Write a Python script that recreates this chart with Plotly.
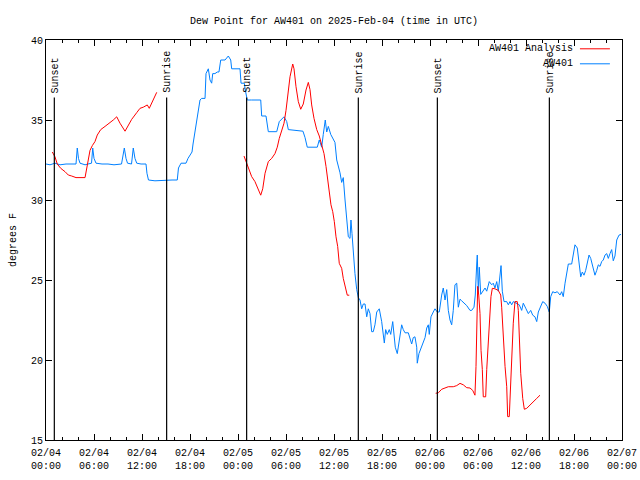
import datetime as dt
import plotly.graph_objects as go

# ---- data (hours after 2025-02-04 00:00 UTC) ----
start = dt.datetime(2025, 2, 4, 0, 0)

obs_hours = [0, 0.5, 1.12, 1.75, 2.5, 3.25, 3.75, 3.91, 4.06, 4.25, 4.88, 5.25, 5.69, 5.84, 6.0, 6.25,
             7.0, 7.75, 8.5, 9.44, 9.79, 10.0, 10.19, 10.69, 10.91, 11.12, 11.34, 11.88, 12.5, 12.62,
             12.81, 13.62, 14.88, 15.75, 16.41, 16.56, 16.88, 17.5, 17.75, 18.0, 18.25, 18.38, 18.71,
             18.96, 19.12, 19.25, 19.46, 19.88, 20.0, 20.29, 20.5, 20.71, 20.84, 21.12, 21.41, 21.62,
             21.84, 22.38, 22.79, 23.09, 23.21, 24.25, 24.38, 24.79, 24.94, 25.16, 25.71, 26.84, 26.96,
             27.5, 27.79, 28.84, 29.16, 29.75, 30.09, 30.29, 32.12, 32.38, 32.66, 33.91, 34.16, 34.46,
             34.66, 34.91, 35.09, 35.29, 35.59, 35.91, 36.12, 36.34, 36.75, 36.96, 37.16, 37.38, 37.59,
             37.79, 38.0, 38.12, 38.25, 38.41, 38.62, 38.84, 39.04, 39.25, 39.46, 39.66, 39.88, 40.09,
             40.29, 40.5, 40.71, 40.91, 41.12, 41.34, 41.66, 41.96, 42.16, 42.29, 42.46, 42.66, 42.91,
             43.09, 43.34, 43.5, 43.66, 43.91, 44.16, 44.46, 44.66, 44.88, 45.29, 45.5, 45.71, 45.91,
             46.12, 46.34, 46.41, 46.62, 46.84, 47.09, 47.38, 47.59, 47.79, 47.91, 48.12, 48.41, 48.62,
             48.91, 49.16, 49.46, 49.66, 49.88, 50.09, 50.29, 50.5, 50.71, 50.91, 51.12, 51.34, 51.54,
             51.75, 51.96, 52.16, 52.38, 52.59, 53.0, 53.21, 53.5, 53.66, 53.84, 53.91, 54.04, 54.16,
             54.34, 54.59, 54.88, 55.09, 55.41, 55.71, 55.91, 56.12, 56.34, 56.54, 56.75, 56.88, 57.04,
             57.25, 57.59, 57.79, 58.0, 58.21, 58.41, 58.84, 59.16, 59.46, 59.66, 60.0, 60.29, 60.59,
             60.84, 61.12, 61.34, 61.54, 61.75, 62.09, 62.38, 62.66, 62.91, 63.09, 63.34, 63.62, 63.91,
             64.25, 64.46, 64.66, 64.88, 65.09, 65.29, 65.71, 65.91, 66.12, 66.41, 66.66, 66.84, 67.04,
             67.25, 67.46, 67.66, 67.88, 68.09, 68.34, 68.62, 68.84, 69.04, 69.25, 69.46, 69.66, 69.88,
             70.09, 70.29, 70.5, 70.71, 70.91, 71.12, 71.34, 71.62, 71.88]
obs_values = [32.25, 32.2, 32.3, 32.2, 32.25, 32.25, 32.25, 33.25, 32.6, 32.3, 32.2, 32.25, 32.3, 33.25, 32.6, 32.3,
              32.25, 32.25, 32.2, 32.25, 33.25, 32.6, 32.3, 32.25, 33.25, 32.6, 32.3, 32.25, 32.25, 31.67,
              31.25, 31.2, 31.25, 31.25, 31.25, 32.0, 32.3, 32.3, 32.6, 32.8, 33.0, 33.5, 34.5,
              35.2, 35.6, 36.25, 36.35, 36.35, 37.9, 38.2, 37.5, 37.3, 37.9, 37.9, 38.0, 38.0,
              38.75, 38.75, 39.0, 38.75, 38.2, 38.2, 37.3, 37.3, 36.8, 36.25, 36.25, 36.25, 35.25,
              35.25, 34.27, 34.27, 34.9, 35.2, 34.9, 34.4, 34.3, 33.9, 33.3, 33.3, 33.75, 33.3,
              34.1, 35.0, 34.25, 34.6, 34.1, 33.8, 33.6, 32.5, 31.7, 31.1, 31.4, 30.0, 28.96,
              27.7, 27.6, 28.75, 27.9, 26.7, 25.4, 24.4, 23.9, 23.75, 23.2, 23.5, 23.5, 22.7,
              23.2, 22.9, 21.77, 21.77, 22.2, 23.0, 23.2, 22.4, 21.45, 21.06, 21.9, 21.6, 21.9,
              21.6, 22.4, 21.5, 20.8, 20.4, 21.3, 22.2, 21.9, 21.7, 21.7, 21.3, 21.0, 21.4,
              21.45, 20.8, 19.8, 20.4, 20.7, 21.0, 21.4, 22.0, 22.2, 21.6, 22.7, 23.0, 23.2,
              23.0, 23.0, 24.06, 24.5, 23.75, 24.4, 23.1, 22.5, 22.2, 23.1, 24.7, 24.8, 23.3,
              23.8, 23.7, 23.6, 23.5, 23.4, 23.1, 23.1, 23.3, 24.06, 26.0, 26.56, 24.2, 25.8,
              24.1, 24.3, 24.5, 24.3, 24.9, 24.7, 24.8, 24.5, 24.9, 24.3, 25.3, 25.9, 24.3,
              23.65, 23.65, 23.45, 23.65, 23.45, 23.65, 23.55, 23.45, 23.1, 23.55, 23.2, 22.9, 23.1,
              22.8, 22.7, 22.4, 23.0, 23.3, 23.65, 23.55, 23.35, 23.0, 23.96, 24.27, 24.2, 24.27,
              24.06, 24.27, 23.96, 24.8, 25.4, 26.0, 26.0, 26.7, 27.2, 27.0, 26.0, 25.2, 25.5,
              25.3, 25.6, 26.15, 26.56, 26.35, 25.8, 25.3, 25.6, 25.95, 25.85, 26.15, 26.25, 26.56,
              26.65, 26.35, 26.65, 26.9, 26.2, 26.5, 27.5, 27.8, 27.85]

ana_hours_1 = [0.79, 1.12, 1.41, 1.84, 2.38, 2.79, 3.21, 3.75, 4.88, 5.09, 5.29, 5.5, 5.79, 6.12, 6.41,
               6.84, 7.38, 8.0, 8.41, 8.84, 9.25, 9.88, 10.29, 10.71, 11.34, 11.75, 12.16, 12.66, 12.91,
               13.21, 13.54, 13.84]
ana_values_1 = [33.0, 32.7, 32.25, 31.98, 31.77, 31.56, 31.5, 31.4, 31.4, 32.0, 32.7, 33.1, 33.4, 33.65, 34.06,
                34.4, 34.6, 34.83, 35.0, 35.2, 34.8, 34.3, 34.7, 35.04, 35.46, 35.73, 35.8, 35.94, 35.73,
                36.04, 36.46, 36.73]
ana_hours_2 = [24.75, 25.09, 25.41, 25.71, 26.12, 26.54, 26.84, 27.09, 27.38, 27.79, 28.21, 28.62, 28.91,
               29.16, 29.46, 29.75, 30.0, 30.21, 30.5, 30.84, 31.0, 31.25, 31.54, 31.84, 32.16, 32.5,
               32.79, 33.0, 33.21, 33.5, 33.84, 34.16, 34.46, 34.75, 35.0, 35.21, 35.41, 35.62, 35.84,
               36.04, 36.25, 36.46, 36.66, 36.96, 37.16, 37.41, 37.66, 37.91]
ana_values_2 = [32.75, 32.3, 31.9, 31.46, 31.15, 30.6, 30.3, 30.7, 31.67, 32.4, 32.6, 32.9, 33.3,
                33.85, 34.27, 34.8, 35.6, 36.67, 37.7, 38.5, 38.2, 37.08, 36.15, 35.67, 36.0, 36.875,
                37.35, 36.9, 35.94, 35.1, 34.4, 34.0, 33.5, 32.9, 32.1, 31.25, 30.4, 29.7, 29.27,
                28.65, 27.7, 27.1, 26.04, 25.73, 25.1, 24.48, 24.05, 24.05]
ana_hours_3 = [48.71, 49.04, 49.46, 50.29, 50.91, 51.34, 51.75, 52.16, 52.59, 53.0, 53.34, 53.62, 53.75,
               53.84, 53.96, 54.09, 54.25, 54.38, 54.54, 54.66, 54.96, 55.09, 55.29, 55.5, 55.62, 55.79,
               56.12, 56.54, 56.84, 56.96, 57.16, 57.38, 57.59, 57.71, 57.91, 58.09, 58.25, 58.41, 58.62,
               58.91, 59.04, 59.16, 59.34, 59.59, 59.79, 60.09, 60.5, 60.91, 61.34, 61.75]
ana_values_3 = [17.92, 17.95, 18.17, 18.33, 18.33, 18.4, 18.54, 18.45, 18.27, 18.25, 18.1, 17.8, 19.6,
                22.9, 24.6, 24.06, 22.9, 20.6, 19.4, 17.7, 17.7, 19.4, 21.04, 22.7, 23.96, 24.48,
                24.45, 24.35, 24.06, 23.3, 21.25, 19.6, 18.33, 16.46, 16.46, 18.33, 20.83, 22.3, 23.65,
                23.65, 23.1, 21.04, 19.17, 17.6, 16.92, 16.98, 17.2, 17.4, 17.6, 17.8]

sun_hours = [1.04, 15.08, 25.08, 39.04, 48.92, 62.92]
sun_labels = ["Sunset", "Sunrise", "Sunset", "Sunrise", "Sunset", "Sunrise"]

title_text = "Dew Point for AW401 on 2025-Feb-04 (time in UTC)"
y_title = "degrees F"
series_names = ["AW401 Analysis", "AW401"]
colors = ["#ff0000", "#0080ff"]

FONT = "Liberation Mono"


def to_time(hours):
    return [start + dt.timedelta(hours=h) for h in hours]


ana_x, ana_y = [], []
for hs, vs in [(ana_hours_1, ana_values_1), (ana_hours_2, ana_values_2), (ana_hours_3, ana_values_3)]:
    ana_x += to_time(hs) + [None]
    ana_y += vs + [None]

fig = go.Figure()
fig.add_trace(go.Scatter(x=to_time(obs_hours), y=obs_values, mode="lines", name=series_names[1],
                         line=dict(color=colors[1], width=1), showlegend=False))
fig.add_trace(go.Scatter(x=ana_x, y=ana_y, mode="lines", name=series_names[0], connectgaps=False,
                         line=dict(color=colors[0], width=1), showlegend=False))

for h, lab in zip(sun_hours, sun_labels):
    t = start + dt.timedelta(hours=h)
    fig.add_shape(type="line", xref="x", yref="y", x0=t, x1=t, y0=15, y1=36.4,
                  line=dict(color="black", width=1.2))
    fig.add_annotation(x=t, y=36.55, xref="x", yref="y", text=lab, textangle=-90, showarrow=False,
                       xanchor="center", yanchor="bottom", xshift=1,
                       font=dict(family=FONT, size=10, color="black"))

# gnuplot-style legend (text left of sample line), top right
legend_rows = [(0.978, series_names[0], colors[0]), (0.9405, series_names[1], colors[1])]
for yy, name, col in legend_rows:
    fig.add_annotation(x=0.918, y=yy, xref="paper", yref="paper", text=name, showarrow=False,
                       xanchor="right", yanchor="middle", font=dict(family=FONT, size=10, color="black"))
    fig.add_shape(type="line", xref="paper", yref="paper", x0=0.927, x1=0.979, y0=yy, y1=yy,
                  line=dict(color=col, width=1))

fig.update_layout(
    width=640, height=480,
    margin=dict(l=46, r=18, t=40, b=40, autoexpand=False),
    paper_bgcolor="white", plot_bgcolor="white",
    font=dict(family=FONT, size=10, color="black"),
    title=dict(text=title_text, x=0.522, xanchor="center", y=0.958, yanchor="middle", automargin=False,
               font=dict(family=FONT, size=10, color="black")),
)
fig.update_xaxes(
    type="date", range=[start, start + dt.timedelta(hours=72)], automargin=False,
    dtick=6 * 3600 * 1000, tick0=start, tickformat="%m/%d<br>%H:%M",
    ticks="inside", ticklen=6, tickcolor="black", showline=True, linecolor="black", linewidth=1,
    mirror="ticks", showgrid=False, zeroline=False, ticklabelstandoff=3,
    minor=dict(ticks="inside", ticklen=3, dtick=2 * 3600 * 1000, tickcolor="black", showgrid=False),
    tickfont=dict(family=FONT, size=10, color="black"),
)
fig.update_yaxes(
    range=[15, 40], dtick=5, ticks="inside", ticklen=6, tickcolor="black", automargin=False,
    showline=True, linecolor="black", linewidth=1, mirror="ticks", showgrid=False, zeroline=False,
    title=dict(text=y_title, font=dict(family=FONT, size=10, color="black"), standoff=12),
    tickfont=dict(family=FONT, size=10, color="black"),
)

fig.write_html("out.html", config={"displayModeBar": False},
               post_script="document.body.style.margin='0';document.body.style.overflow='hidden';")
